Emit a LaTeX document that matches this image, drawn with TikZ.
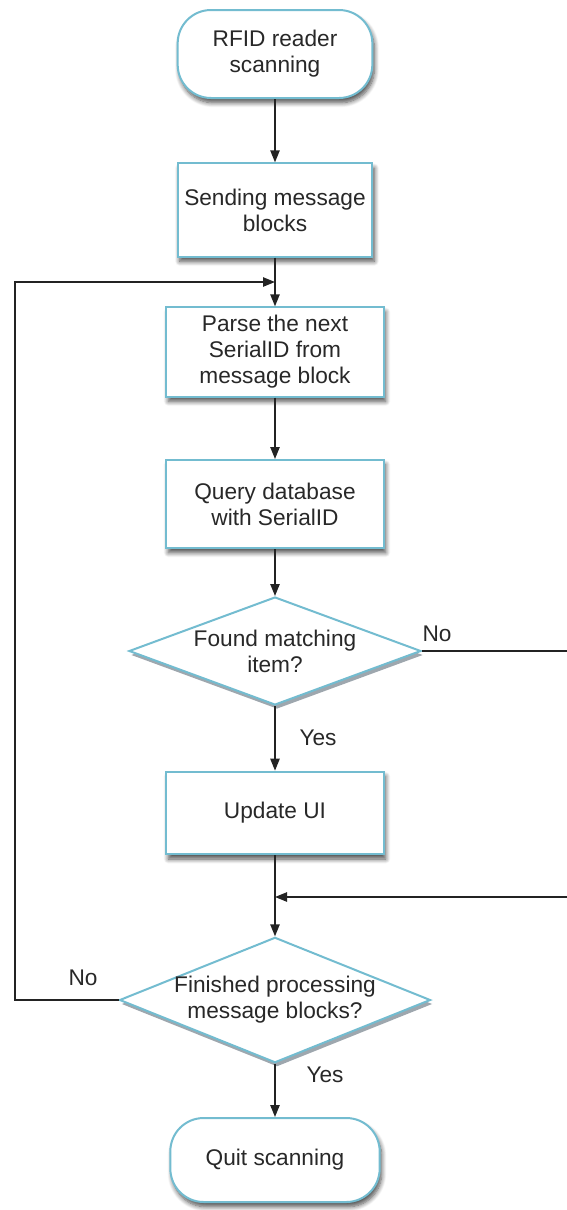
\documentclass[tikz,border=0pt]{standalone}
\usepackage{fontspec}
\setmainfont{Liberation Sans}
\usetikzlibrary{shapes.geometric,arrows.meta,shadows,shadows.blur}

\definecolor{edge}{RGB}{115,188,208}
\definecolor{ink}{RGB}{40,40,40}
\definecolor{wire}{RGB}{35,35,35}
\definecolor{shade}{RGB}{40,60,75}

\begin{document}
\begin{tikzpicture}[x=0.75pt,y=-0.75pt,
  font=\fontsize{17}{19.5}\selectfont,
  base/.style={draw=edge, line width=1.5pt, fill=white, text=ink, align=center,
    inner sep=0pt},
  soft/.style={blur shadow={shadow xshift=1.5pt, shadow yshift=-3.5pt,
      shadow opacity=70, shadow blur radius=3.5pt, shadow blur steps=8}},
  terminal/.style={base, soft, rounded corners=25pt},
  process/.style={base, soft},
  decision/.style={base, diamond, aspect=3, inner xsep=-12pt,
    drop shadow={shadow xshift=1.5pt, shadow yshift=-3pt, opacity=0.45, fill=shade}},
  wire/.style={draw=wire, line width=1.1pt, -{Triangle[length=9pt,width=7pt]}},
  plain/.style={draw=wire, line width=1.1pt},
  lbl/.style={text=ink, inner sep=0pt}
]
\useasboundingbox (0,0) rectangle (567,1210);

% nodes of the flow, top to bottom
\node[terminal, minimum width=146pt, minimum height=66pt] (start) at (275,54)
  {RFID reader\\scanning};
\node[process, minimum width=146pt, minimum height=70pt] (send) at (275,210)
  {Sending message\\blocks};
\node[process, minimum width=163pt, minimum height=67pt] (parse) at (275,352)
  {Parse the next\\SerialID from\\message block};
\node[process, minimum width=163pt, minimum height=66pt] (query) at (275,504)
  {Query database\\with SerialID};
\node[decision, minimum width=219pt, minimum height=81pt] (found) at (275,651)
  {Found matching\\item?};
\node[process, minimum width=163pt, minimum height=62pt] (ui) at (275,813)
  {Update UI};
\node[decision, minimum width=227pt, minimum height=94pt] (done) at (275,1000)
  {Finished processing\\message blocks?};
\node[terminal, minimum width=157pt, minimum height=63pt] (quit) at (275,1160)
  {Quit scanning};

% junction points on the main column and the loop corners
\coordinate (j1) at (275,282);
\coordinate (j2) at (275,897);
\coordinate (loopL) at (15,282);
\coordinate (loopR) at (600,897);

% straight connectors
\draw[wire] (start) -- (send);
\draw[plain] (send) -- (j1);
\draw[wire] (j1) -- (parse);
\draw[wire] (parse) -- (query);
\draw[wire] (query) -- (found);
\draw[wire] (found) -- (ui);
\draw[plain] (ui) -- (j2);
\draw[wire] (j2) -- (done);
\draw[wire] (done) -- (quit);

% loop back when more blocks remain
\draw[wire] (done.west) -| (loopL) -- (j1);
% bypass when no item matched
\draw[wire] (found.east) -| (loopR) -- (j2);

% branch labels
\node[lbl] (no1) at (437,634) {No};
\node[lbl] (yes1) at (318,738) {Yes};
\node[lbl] (no2) at (83,978) {No};
\node[lbl] (yes2) at (325,1075) {Yes};
\end{tikzpicture}
\end{document}
